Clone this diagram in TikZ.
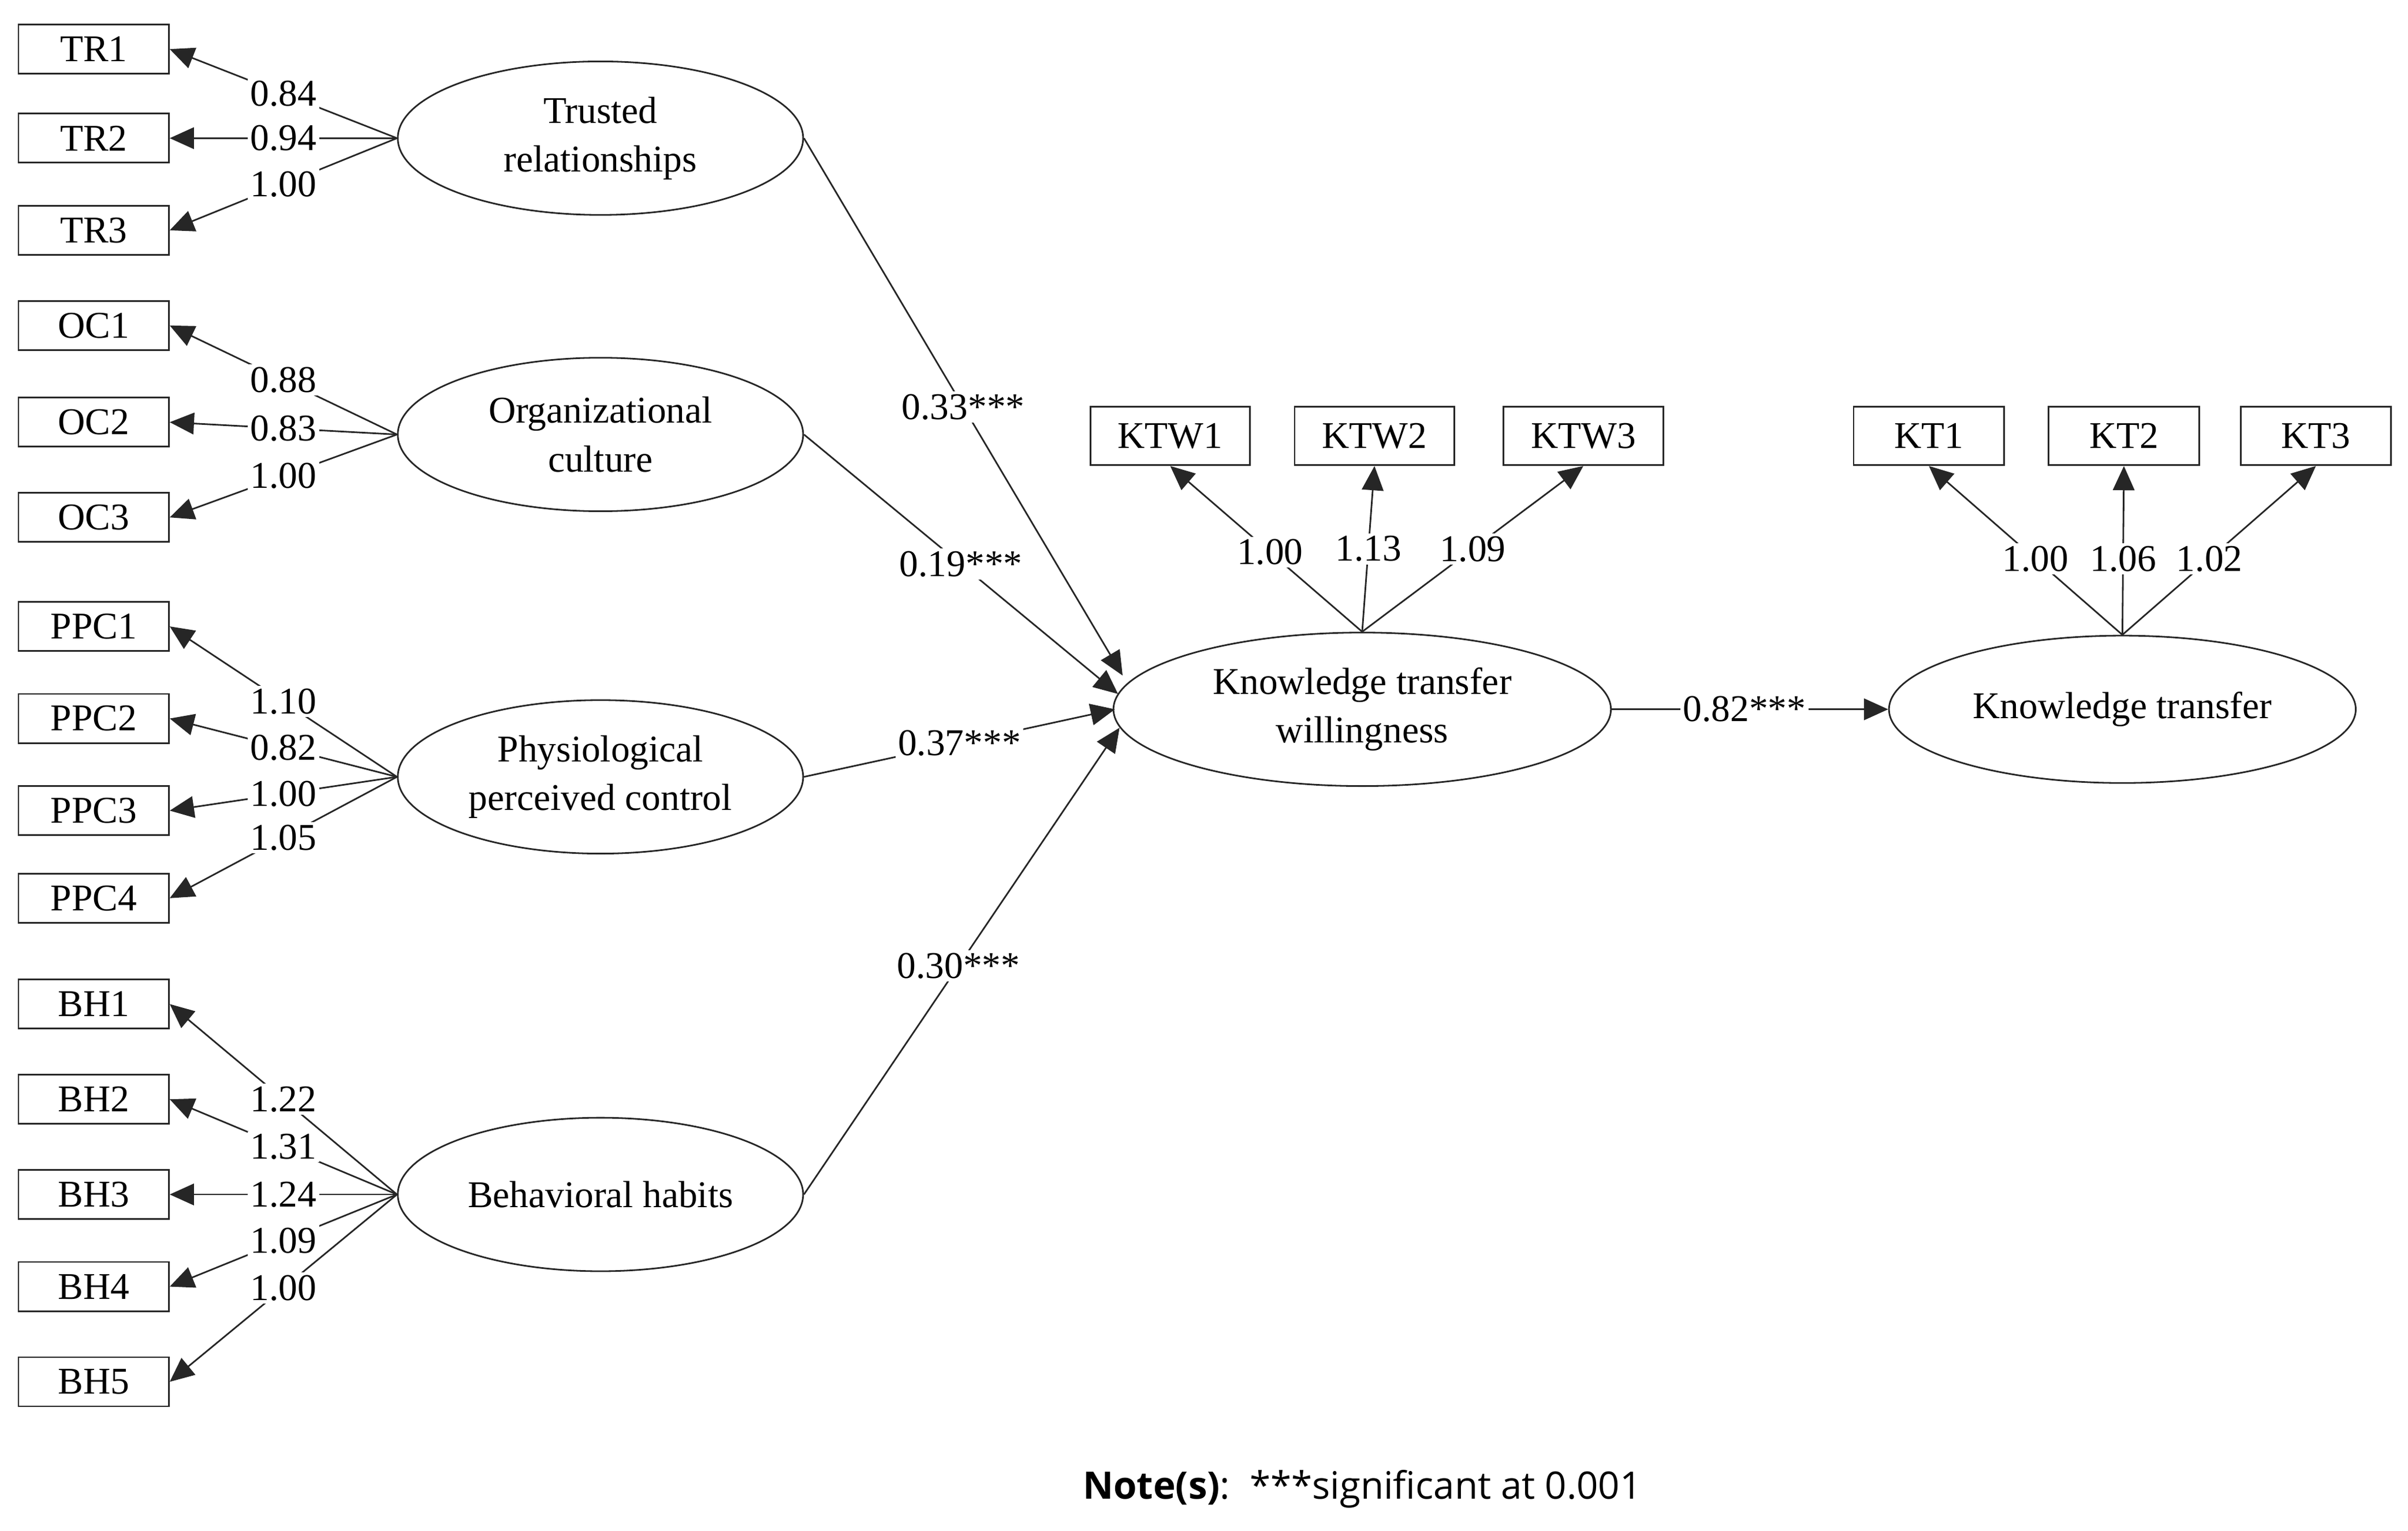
\documentclass[tikz,border=0pt]{standalone}
\usepackage{fontspec}
\setmainfont{Liberation Serif}
\newfontfamily\notefont{Open Sans}
\usetikzlibrary{arrows.meta,shapes.geometric}
\begin{document}
\begin{tikzpicture}[x=0.02cm,y=-0.02cm,
  font=\fontsize{14}{18}\selectfont,
  ln/.style={line width=0.6pt,draw=black!85},
  ind/.style={draw=black!85,line width=0.6pt,rectangle,minimum width=1.96cm,minimum height=0.64cm,inner sep=0pt},
  ind2/.style={draw=black!85,line width=0.6pt,rectangle,minimum width=2.08cm,minimum height=0.76cm,inner sep=0pt},
  lat/.style={draw=black!85,line width=0.6pt,ellipse,minimum width=5.28cm,minimum height=2cm,align=center,inner sep=0pt},
  arr/.style={ln,-{Triangle[length=9pt,width=8pt]}},
  lab/.style={fill=white,inner sep=1pt}]
\useasboundingbox (0,0) rectangle (1568,997);
% latent
\node[lat] (TR) at (391,90) {Trusted\\relationships};
\node[lat] (OC) at (391,283) {Organizational\\culture};
\node[lat] (PPC) at (391,506) {Physiological\\perceived control};
\node[lat] (BH) at (391,778) {Behavioral habits};
\node[lat,minimum width=6.48cm] (KTW) at (887,462) {Knowledge transfer\\willingness};
\node[lat,minimum width=6.08cm,minimum height=1.92cm] (KT) at (1382,462) {Knowledge transfer};
% indicators
\foreach \n/\y in {TR1/32,TR2/90,TR3/150,OC1/212,OC2/275,OC3/337,PPC1/408,PPC2/468,PPC3/528,PPC4/585,BH1/654,BH2/716,BH3/778,BH4/838,BH5/900}
  \node[ind] (\n) at (61,\y) {\n};
\foreach \n/\x in {KTW1/762,KTW2/895,KTW3/1031}
  \node[ind2] (\n) at (\x,284) {\n};
\foreach \n/\x in {KT1/1256,KT2/1383,KT3/1508}
  \node[ind2,minimum width=1.96cm] (\n) at (\x,284) {\n};
% loadings
\foreach \f/\t/\v in {TR/TR1/0.84,TR/TR2/0.94,TR/TR3/1.00,OC/OC1/0.88,OC/OC2/0.83,OC/OC3/1.00,
  PPC/PPC1/1.10,PPC/PPC2/0.82,PPC/PPC3/1.00,PPC/PPC4/1.05,
  BH/BH1/1.22,BH/BH2/1.31,BH/BH3/1.24,BH/BH4/1.09,BH/BH5/1.00}
  \draw[arr] (\f.west) -- (\t.east) node[lab,pos=0.5] {\v};
\foreach \t/\v/\p in {KTW1/1.00/0.48,KTW2/1.13/0.5,KTW3/1.09/0.5}
  \draw[arr] (KTW.north) -- (\t.south) node[lab,pos=\p] {\v};
\foreach \t/\v/\p in {KT1/1.00/0.45,KT2/1.06/0.45,KT3/1.02/0.45}
  \draw[arr] (KT.north) -- (\t.south) node[lab,pos=\p] {\v};
% structural
\coordinate (a1) at (731,440);
\coordinate (a2) at (728,452);
\coordinate (a3) at (726,462);
\coordinate (a4) at (729,474);
\draw[arr] (TR.east) -- (a1) node[lab,pos=0.5] {0.33***};
\draw[arr] (OC.east) -- (a2) node[lab,pos=0.5] {0.19***};
\draw[arr] (PPC.east) -- (a3) node[lab,pos=0.5] {0.37***};
\draw[arr] (BH.east) -- (a4) node[lab,pos=0.49] {0.30***};
\draw[arr] (KTW.east) -- (KT.west) node[lab,pos=0.48] {0.82***};
\node[font=\notefont\fontsize{14}{16}\selectfont] (note) at (887,970) {\textbf{Note(s)}:\ \ ***significant at 0.001};
\end{tikzpicture}
\end{document}
